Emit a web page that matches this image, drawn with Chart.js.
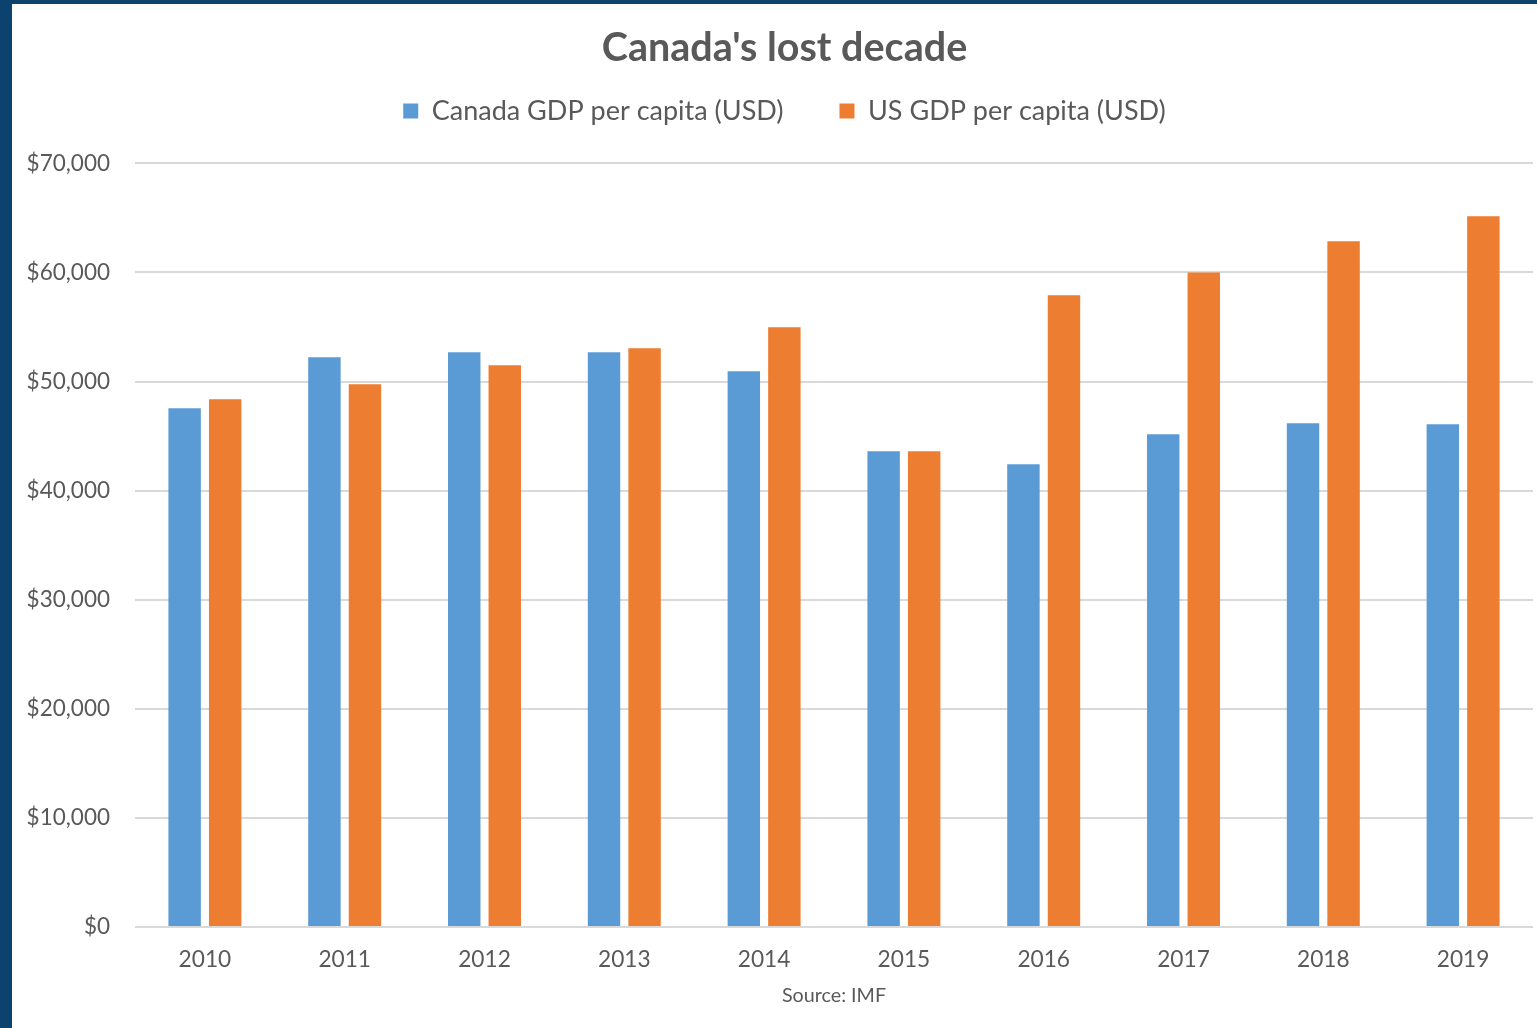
<!DOCTYPE html>
<html>
<head>
<meta charset="utf-8">
<script src="https://cdn.jsdelivr.net/npm/chart.js@4"></script>
<style>
  html, body { margin: 0; padding: 0; background: #fff; overflow: hidden; }
  #frame {
    position: absolute; left: 0; top: 0;
    width: 1545px; height: 1024px;
    border-left: 12px solid #0c436e;
    border-top: 4px solid #0c436e;
    background: #fff;
  }
  #chart-gdp { display: block; }
</style>
</head>
<body>
<div id="frame"><canvas id="chart-gdp" width="1545" height="1024"></canvas></div>
<script>
const years = ["2010", "2011", "2012", "2013", "2014", "2015", "2016", "2017", "2018", "2019"];
const canada_gdp = [47550, 52230, 52680, 52680, 50940, 43610, 42420, 45170, 46180, 46090];
const us_gdp = [48380, 49750, 51490, 53050, 54980, 43610, 57910, 60010, 62860, 65150];
const y_max = 70000;
const y_step = 10000;

const text_grey = "#595959";

Chart.defaults.font.family = "Lato, 'Open Sans', sans-serif";
Chart.defaults.color = text_grey;

const data_gdp = {
  labels: years,
  datasets: [{
    label: "Canada GDP per capita (USD)",
    data: canada_gdp,
    backgroundColor: "#5b9bd5"
  },
  {
    label: "US GDP per capita (USD)",
    data: us_gdp,
    backgroundColor: "#ed7d31"
  }]
};

// legend padding is also the gap between items, so keep its height fixed
const legend_height = {
  id: "legend_height",
  beforeInit(chart) {
    const fit = chart.legend.fit;
    chart.legend.fit = function () {
      fit.call(this);
      this.height = 122;
    };
  }
};

const config_gdp = {
  type: 'bar',
  data: data_gdp,
  plugins: [legend_height],
  options: {
    responsive: false,
    animation: false,
    datasets: {
      bar: {
        categoryPercentage: 0.58,
        barPercentage: 0.8
      }
    },
    layout: {
      padding: { left: 0, right: 0, top: 0, bottom: 17 }
    },
    plugins: {
      title: {
        display: true,
        text: "Canada's lost decade",
        color: text_grey,
        font: { size: 39.5, weight: 'bold' },
        padding: { top: 21, bottom: -31 }
      },
      legend: {
        position: 'top',
        labels: {
          boxWidth: 15,
          boxHeight: 15,
          padding: 56,
          color: text_grey,
          font: { size: 27 }
        }
      },
      tooltip: { enabled: false }
    },
    scales: {
      x: {
        afterFit: (scale) => { scale.height = 84; },
        grid: { display: false },
        border: { display: false },
        ticks: {
          color: text_grey,
          font: { size: 22.7 },
          padding: 11
        },
        title: {
          display: true,
          text: "Source: IMF",
          color: text_grey,
          font: { size: 19.7 },
          padding: { top: 4, bottom: 4 }
        }
      },
      y: {
        min: 0,
        max: y_max,
        afterFit: (scale) => { scale.width = 123; },
        grid: {
          color: "#d9d9d9",
          lineWidth: 2,
          drawTicks: false
        },
        border: { display: false },
        ticks: {
          stepSize: y_step,
          padding: 25,
          color: text_grey,
          font: { size: 22.5 },
          callback: (v) => "$" + v.toLocaleString("en-US")
        }
      },
      // empty strip on the right: the picture is cut there, the chart goes on a bit
      right_gap: {
        type: 'linear',
        axis: 'y',
        position: 'right',
        afterFit: (scale) => { scale.width = 24; },
        grid: { display: false },
        border: { display: false },
        ticks: { display: false }
      }
    }
  }
};

new Chart(document.getElementById("chart-gdp"), config_gdp);
</script>
</body>
</html>
